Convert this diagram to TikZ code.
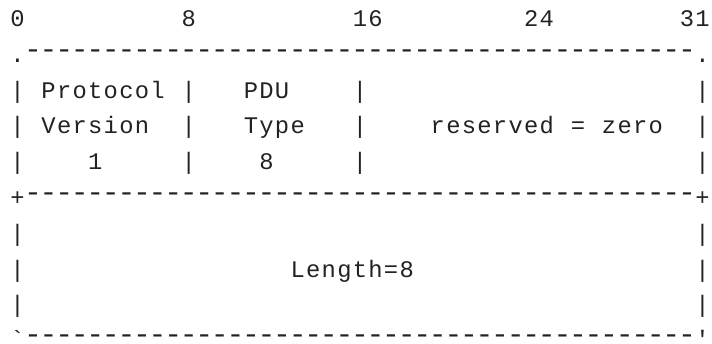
\documentclass[tikz,border=0pt]{standalone}
\usepackage{fontspec}
\setmonofont{Liberation Mono}
\definecolor{ink}{HTML}{222222}
\ExplSyntaxOn
\cs_new:Npn \Rep #1#2 { \prg_replicate:nn {#1} {#2} }
\ExplSyntaxOff
\newlength\pitch \setlength\pitch{15.57pt}
\def\putch#1{\hbox to\pitch{\hss\ifx#1*\else\ifx#1-\raisebox{3.8pt}{\scalebox{1.25}[1.2]{-}}\else#1\fi\fi\hss}}
\def\scanchars#1{\ifx#1\relax\else\putch{#1}\expandafter\scanchars\fi}
\newcommand\asciiline[1]{\edef\tmpline{#1}\expandafter\scanchars\tmpline\relax}
\tikzset{asc/.style={anchor=base west, inner sep=0pt, outer sep=0pt, text=ink,
  font=\ttfamily\fontsize{23.8}{28}\selectfont}}
\begin{document}
\begin{tikzpicture}[x=1pt,y=-1pt]
\useasboundingbox (0,0) rectangle (712,343);
\def\lx{9.7}
\node[asc] (r0) at (\lx,26.8) {\asciiline{0\Rep{10}{*}8\Rep{10}{*}16\Rep{9}{*}24\Rep{8}{*}31}};
\node[asc] (r1) at (\lx,62.0) {\asciiline{.\Rep{43}{-}.}};
\node[asc] (r2) at (\lx,98.0) {\asciiline{|*Protocol*|***PDU****|\Rep{21}{*}|}};
\node[asc] (r3) at (\lx,133.8) {\asciiline{|*Version**|***Type***|****reserved*=*zero**|}};
\node[asc] (r4) at (\lx,169.6) {\asciiline{|****1*****|****8*****|\Rep{21}{*}|}};
\node[asc] (r5) at (\lx,205.4) {\asciiline{+\Rep{43}{-}+}};
\node[asc] (r6) at (\lx,241.2) {\asciiline{|\Rep{43}{*}|}};
\node[asc] (r7) at (\lx,277.0) {\asciiline{|\Rep{17}{*}Length=8\Rep{18}{*}|}};
\node[asc] (r8) at (\lx,312.8) {\asciiline{|\Rep{43}{*}|}};
\node[asc] (r9) at (\lx,347.6) {\asciiline{`\Rep{43}{-}'}};
\end{tikzpicture}
\end{document}
